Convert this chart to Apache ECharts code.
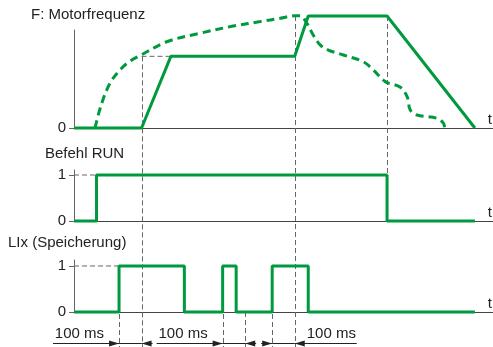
<!DOCTYPE html>
<html>
<head>
<meta charset="utf-8">
<script src="https://cdn.jsdelivr.net/npm/echarts@6/dist/echarts.min.js"></script>
<style>
  html, body { margin: 0; padding: 0; background: #fff; }
  #main { width: 493px; height: 347px; }
</style>
</head>
<body>
<div id="main"></div>
<script>
// Zeitachse in ms
var tMax = 1860;

// F: Motorfrequenz, Sollwert (durchgezogen) [ms] / [Hz]
var freqTimes  = [0, 300, 430, 980, 1040, 1390, 1780];
var freqValues = [0, 0, 32, 32, 50, 50, 0];

// Motorfrequenz tatsächlich (gestrichelt)
var motorTimes  = [93, 123, 160, 204, 249, 293, 412, 560, 707, 827, 916, 982, 1004, 1034, 1062, 1093, 1129, 1196, 1284, 1329, 1382, 1449, 1479, 1493, 1523, 1612, 1640, 1646];
var motorValues = [0, 11, 20, 25.9, 29.9, 32.3, 38.5, 42.3, 45.5, 47.5, 49, 50.1, 50.1, 46.7, 41.5, 37.1, 34.8, 32.6, 29.6, 25.9, 20.7, 18.2, 14, 8, 5.8, 4.3, 2.2, 0];

// Befehl RUN (Flanken)
var runTimes  = [0, 100, 1390, 1780];
var runValues = [0, 1, 0, 0];

// LIx (Speicherung)
var lixTimes  = [0, 200, 490, 660, 720, 880, 1040, 1780];
var lixValues = [0, 1, 0, 1, 0, 1, 0, 0];

// 100 ms Intervalle
var msStart = [200, 660, 880];
var msEnd   = [300, 760, 980];
var msSide  = ['left', 'left', 'right'];
var msLabel = '100 ms';

var green = '#009a3e';
var font = '"Liberation Sans", Arial, sans-serif';
var fs = 15;
var txt = '#222';

function zip(a, b) {
  return a.map(function(v, i) { return [v, b[i]]; });
}

var chart = echarts.init(document.getElementById('main'));

function xAx(i) {
  return {
    type: 'value', gridIndex: i, min: 0, max: tMax,
    axisLabel: { show: false }, axisTick: { show: false }, splitLine: { show: false },
    axisLine: { lineStyle: { color: '#444', width: 1 } },
    name: 't', nameLocation: 'end', nameGap: -3,
    nameTextStyle: { color: txt, fontSize: fs, fontFamily: font, align: 'center', verticalAlign: 'bottom', padding: [0, 0, 1, 0] }
  };
}
function yAx(i, max, vals) {
  return {
    type: 'value', gridIndex: i, min: 0, max: max,
    splitLine: { show: false },
    axisLine: { show: true, lineStyle: { color: '#666', width: 1 } },
    axisTick: { show: true, length: 5, customValues: vals, lineStyle: { color: '#666' } },
    axisLabel: { customValues: vals, margin: 8, color: txt, fontSize: fs, fontFamily: font }
  };
}
function guide(i, pts) {
  return {
    type: 'line', xAxisIndex: i, yAxisIndex: i, data: pts, symbol: 'none', silent: true, z: 1,
    lineStyle: { color: '#666', width: 1, type: [5, 3] }
  };
}
function ttl(text, left, top) {
  return { text: text, left: left, top: top, padding: 0,
    textStyle: { fontSize: fs, fontWeight: 'normal', color: txt, fontFamily: font } };
}

var option = {
  animation: false,
  title: [
    ttl('F: Motorfrequenz', 31, 7),
    ttl('Befehl RUN', 45, 146),
    ttl('LIx (Speicherung)', 8, 235)
  ],
  grid: [
    { left: 74, right: 0, top: 30, height: 98 },
    { left: 74, right: 0, top: 170, height: 51 },
    { left: 74, right: 0, top: 260, height: 52 }
  ],
  xAxis: [xAx(0), xAx(1), xAx(2)],
  yAxis: [yAx(0, 43.75, [0]), yAx(1, 1.109, [0, 1]), yAx(2, 1.13, [0, 1])],
  series: [
    guide(0, [[msEnd[0], 32], [430, 32]]),
    guide(0, [[msEnd[2], 50], [1040, 50]]),
    guide(1, [[0, 1], [runTimes[1], 1]]),
    guide(2, [[0, 1], [lixTimes[1], 1]]),
    {
      type: 'line', xAxisIndex: 0, yAxisIndex: 0, data: zip(motorTimes, motorValues),
      symbol: 'none', smooth: 0.35, clip: false,
      lineStyle: { color: green, width: 3, type: [8, 5] }
    },
    {
      type: 'line', xAxisIndex: 0, yAxisIndex: 0, data: zip(freqTimes, freqValues),
      symbol: 'none', clip: false,
      lineStyle: { color: green, width: 3 }
    },
    {
      type: 'line', xAxisIndex: 1, yAxisIndex: 1, data: zip(runTimes, runValues),
      symbol: 'none', step: 'end', clip: false,
      lineStyle: { color: green, width: 3 }
    },
    {
      type: 'line', xAxisIndex: 2, yAxisIndex: 2, data: zip(lixTimes, lixValues),
      symbol: 'none', step: 'end', clip: false,
      lineStyle: { color: green, width: 3 }
    }
  ]
};
chart.setOption(option);

// senkrechte Hilfslinien und 100 ms Pfeile über alle Diagramme
function px(g, t, v) { return chart.convertToPixel({ gridIndex: g }, [t, v]); }
var H = chart.getHeight();
var vGuides = [
  { t: msEnd[0], g: 0, v: 32 },
  { t: msEnd[2], g: 0, v: 50 },
  { t: runTimes[2], g: 0, v: 50, g2: 1, v2: 1 },
  { t: msStart[0], g: 2, v: 1 },
  { t: msStart[1], g: 2, v: 1 },
  { t: msEnd[1], g: 2, v: 0 },
  { t: msStart[2], g: 2, v: 1 }
];
var els = [];
vGuides.forEach(function(d) {
  var p = px(d.g, d.t, d.v);
  var y2 = d.g2 != null ? px(d.g2, d.t, d.v2)[1] : H;
  els.push({ type: 'line', z: 1, silent: true,
    shape: { x1: Math.round(p[0]) + 0.5, y1: p[1], x2: Math.round(p[0]) + 0.5, y2: y2 },
    style: { stroke: '#666', lineWidth: 1, lineDash: [5, 3] } });
});

var rowY = Math.round(px(2, 0, 0)[1] + 31) + 0.5;
function hline(x1, x2) {
  els.push({ type: 'line', silent: true, shape: { x1: x1, y1: rowY, x2: x2, y2: rowY },
    style: { stroke: '#222', lineWidth: 1 } });
}
function head(x, dir) {
  els.push({ type: 'polygon', silent: true,
    shape: { points: [[x, rowY], [x - dir * 10, rowY - 3], [x - dir * 10, rowY + 3]] },
    style: { fill: '#222' } });
}
msStart.forEach(function(t, i) {
  var a = px(2, t, 0)[0], b = px(2, msEnd[i], 0)[0];
  var left = msSide[i] === 'left';
  hline(a - (left ? 66 : 11), a);
  hline(a, b);
  hline(b, b + (left ? 11 : 62));
  head(a, 1);
  head(b, -1);
  els.push({ type: 'text', silent: true,
    style: { text: msLabel, x: left ? a - 15 : b + 12, y: rowY - 2,
      align: left ? 'right' : 'left', verticalAlign: 'bottom',
      fill: txt, fontSize: fs, fontFamily: font } });
});
chart.setOption({ graphic: els });
</script>
</body>
</html>
